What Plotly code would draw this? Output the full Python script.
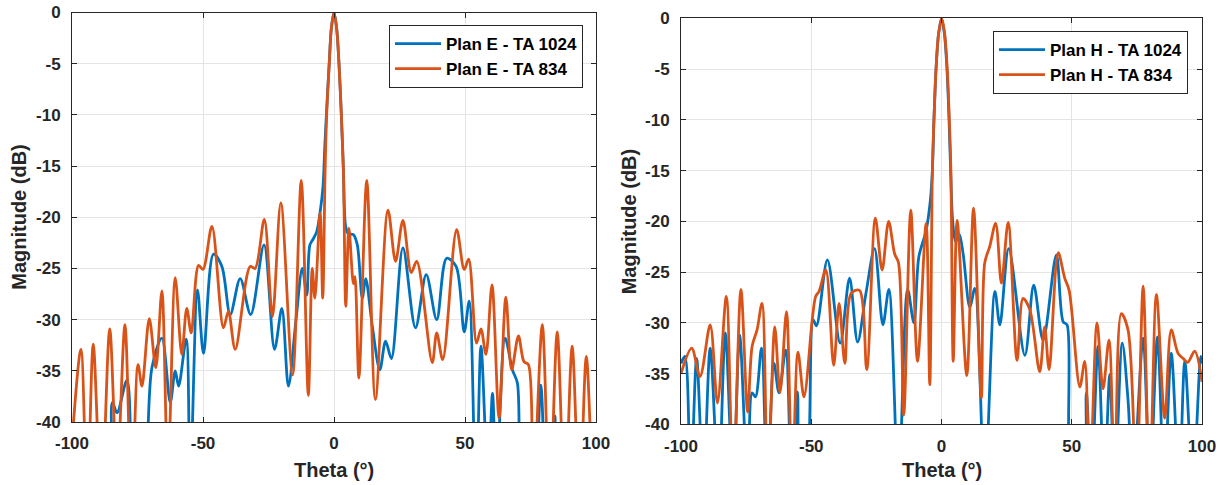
import plotly.graph_objects as go

# ---------------- data ----------------
# Left panel: Plan E
e1024_theta = [-100, -87.5, -84.6, -82.8, -79, -76, -72.5, -69.5, -65.7, -62.5, -60.6, -59.3, -56.4, -54.9,
               -52.1, -49.8, -46, -42.8, -39.6, -35.8, -31.8, -26.7, -22.7, -19.9, -17.4, -14.5, -12.1,
               -10.4, -9.2, -7.9, -6.6, -5.3, -4.2, -3.5, -2.8, -1.8, -1, 0, 1, 1.9, 2.8, 3.6, 4.4,
               5.4, 7.4, 8.9, 10.8, 12.1, 14.7, 17.5, 19.7, 21.9, 26.3, 31.1, 35.2, 39.2, 43, 46.6,
               49.7, 51.6, 54.2, 56.1, 58.8, 60.5, 62, 65.3, 68.1, 70, 72, 76.3, 78.9, 81.2, 84.3, 86,
               100]
e1024_mag = [-50, -50, -38.1, -39.1, -35.9, -48, -46, -34.7, -31.8, -38.1, -35, -36.5, -31.9, -46,
             -27.1, -33.3, -23.6, -24.8, -29.5, -26, -29.5, -22.7, -32.9, -28.9, -36.5, -30, -25,
             -27.6, -22.7, -22.1, -21.4, -19.5, -17, -13, -9.5, -4.8, -1.5, 0, -1.5, -5, -10, -15.5, -20.8,
             -21.6, -21.7, -22.7, -27.9, -26, -30.8, -34.9, -32.1, -33.8, -23, -30.8, -25.6, -30, -24, -24.8,
             -31.2, -28.2, -48, -32.6, -46, -37.2, -46, -31.8, -34.9, -36.2, -48, -46, -36.4, -48, -39.4, -48,
             -50]

e834_theta = [-100, -96.6, -94.2, -91.9, -88.8, -85.6, -82.8, -79.8, -77.2, -74.8, -73.3, -70.5, -68,
              -65.7, -63.4, -60.6, -58.1, -56.2, -54.5, -51.7, -50, -46.6, -42.2, -40.3, -37.7, -32,
              -30.1, -26.6, -23.5, -20.3, -15.8, -12.5, -9.8, -8.3, -7.3, -5.3, -4.3, -3.4, -2.8, -1.8,
              -1, 0, 1, 1.9, 2.8, 3.6, 4.5, 5.7, 7.4, 8, 9.5, 12.5, 15.8, 20.6, 23.5, 26.3, 29.5, 31.6,
              37.5, 39.2, 41.5, 46.8, 49.7, 51.4, 54.4, 56.1, 58, 60.3, 63, 65.6, 67.8, 70.4, 72.5, 74.2,
              75.9, 79.5, 82.3, 85.2, 88.1, 90.9, 93.7, 96.3, 99.1, 100]
e834_mag = [-42, -32.9, -48, -32.4, -48, -30.9, -45, -30.5, -48, -34.4, -36.5, -29.9, -34.7,
            -27.2, -45, -25.9, -33.4, -28.9, -31.3, -24.7, -25.1, -20.9, -30.8, -29.2, -32.9, -24.8,
            -25, -20.2, -29.7, -18.6, -35.4, -16.4, -37.4, -25, -27.9, -19.6, -27.9, -15.5, -10, -5,
            -1.5, 0, -1.5, -5, -10, -15.5, -28.7, -21.1, -26.5, -25.8, -35.7, -16.4, -37.8, -19.3, -24.3, -20.3, -25.4, -24.3,
            -34.2, -31.3, -33.9, -21.2, -25.1, -24.1, -32.3, -30.9, -33.4, -26.6, -39.6, -27.8, -34.9, -31.6, -34.1, -34.4,
            -48, -30.5, -48, -31.2, -48, -32.6, -48, -33.6, -48, -42]

# Right panel: Plan H
h1024_theta = [-100, -98.5, -96.3, -94, -91.4, -88.8, -85.6, -83, -80, -77.5, -74.4, -72.7, -71.4, -69.1,
               -66.9, -64.3, -62.4, -59.8, -57.5, -55.3, -53.8, -52.3, -49.3, -48, -43.8, -38.9, -35.3,
               -32.2, -29, -25.7, -22.5, -20.2, -16.5, -13, -10.6, -8.7, -5.9, -4.3, -3.5, -2.9, -2.1,
               -1.1, 0, 1.1, 2.1, 2.9, 3.5, 4.3, 5.4, 6.8, 8.3, 10.9, 12.8, 16.6, 20.5, 22.4, 25.8, 32,
               35.4, 39, 44.1, 46.7, 48.2, 50.5, 54, 55.6, 57.5, 60.1, 62.5, 64.6, 66.5, 69.4, 71.6,
               73.5, 77.4, 80, 82.9, 85.5, 88.2, 91.2, 93.4, 96.5, 99.5, 100]
h1024_mag = [-34, -33.3, -46, -33.5, -46, -32.5, -46, -31, -46, -31.2, -46, -36.9, -37.3, -32.5,
             -46, -34, -36.9, -32.7, -46, -36.8, -46, -46, -29.7, -30.3, -23.8, -32, -25.6,
             -31.9, -27.1, -22.7, -30.2, -26.7, -46, -26.7, -30, -23.5, -20.9, -18, -15, -10, -5,
             -1.5, 0, -1.5, -5, -10, -15, -20, -22, -21.3, -23.2, -28.5, -26.6, -46, -26.9, -30.2, -22.7, -33.2,
             -26.3, -31.7, -23.3, -29.9, -30.2, -46, -46, -36.9, -46, -32.3, -46, -35.1, -46, -32, -37.6,
             -46, -31.5, -46, -31.4, -46, -33, -46, -33.8, -46, -33.3, -34]

h834_theta = [-100, -95.9, -92.7, -88.8, -86, -82.6, -80, -77, -74.4, -72.7, -70.8, -68.9, -66.7, -64,
              -62, -59.5, -57.3, -55.1, -52.8, -49.5, -48.3, -47, -44.4, -41.4, -39.3, -37.1, -34.7,
              -31.5, -28.7, -25.4, -22.8, -20.3, -18, -16.5, -14.5, -11.8, -9.2, -5.9, -4.5, -3.5, -2.9,
              -2.1, -1.1, 0.1, 1.2, 2.2, 3, 3.6, 4.5, 6, 9.7, 12.3, 15.3, 16.6, 18.5, 20.8, 23, 25.6,
              29, 31.3, 33.9, 37.7, 39.6, 41.3, 44.8, 47.3, 49, 53.1, 55, 56.9, 59.7, 62, 64.3, 66.5,
              69, 71.6, 74.8, 77.4, 79.9, 82.5, 85.7, 88.2, 90.8, 92.7, 94.5, 97.2, 100]
h834_mag = [-35, -32.5, -35.3, -30.2, -37.9, -27.4, -46, -26.7, -38.8, -32.3, -30.7, -28.1, -46, -30.4,
            -36.9, -28.9, -46, -32.9, -37.3, -29.4, -27.4, -26.9, -24.8, -34.2, -28.1, -34, -27.1,
            -26.8, -34.6, -19.7, -24.8, -20, -23.2, -24.1, -39.1, -18.9, -33.8, -20.2, -36.1, -15, -10,
            -5, -1.5, 0, -1.5, -5, -10, -15, -33.8, -19.9, -35.2, -18.7, -37.4, -24.1, -22.5, -20.2, -26.1, -20.1,
            -33.7, -27.6, -28.7, -34.8, -30.4, -34.6, -23.1, -25.6, -26.8, -36.3, -33.8, -46, -30, -36.5, -31.7, -46,
            -29.1, -30.7, -46, -26.4, -46, -27.2, -39.4, -30.7, -33, -33.5, -33.9, -32.8, -35.8]

x_ticks = [-100, -50, 0, 50, 100]
y_ticks = [0, -5, -10, -15, -20, -25, -30, -35, -40]

BLUE = "#0072BD"
ORANGE = "#D95319"
AX = "#262626"
GRID = "#e4e4e4"
FONT = "Liberation Sans"

W, H = 1223, 485
# plot areas in pixels (left, right, top, bottom)
P1 = (72, 596, 12.5, 422)
P2 = (681, 1202, 18.3, 424.3)

def dom(p):
    l, r, t, b = p
    return [l / W, r / W], [(H - b) / H, (H - t) / H]

fig = go.Figure()
lw = 2.8
fig.add_trace(go.Scatter(x=e1024_theta, y=e1024_mag, mode="lines", name="Plan E - TA 1024",
                         line=dict(color=BLUE, width=lw, shape="spline", smoothing=0.9),
                         xaxis="x", yaxis="y", legend="legend"))
fig.add_trace(go.Scatter(x=e834_theta, y=e834_mag, mode="lines", name="Plan E - TA 834",
                         line=dict(color=ORANGE, width=lw, shape="spline", smoothing=0.9),
                         xaxis="x", yaxis="y", legend="legend"))
fig.add_trace(go.Scatter(x=h1024_theta, y=h1024_mag, mode="lines", name="Plan H - TA 1024",
                         line=dict(color=BLUE, width=lw, shape="spline", smoothing=0.9),
                         xaxis="x2", yaxis="y2", legend="legend2"))
fig.add_trace(go.Scatter(x=h834_theta, y=h834_mag, mode="lines", name="Plan H - TA 834",
                         line=dict(color=ORANGE, width=lw, shape="spline", smoothing=0.9),
                         xaxis="x2", yaxis="y2", legend="legend2"))

tickfont = dict(family=FONT, size=17, color=AX)

def xaxis(d, anchor):
    return dict(domain=d, anchor=anchor, range=[-100, 100], tickvals=x_ticks,
                ticktext=["<b>%d</b>" % v for v in x_ticks], tickfont=tickfont,
                showline=True, linecolor=AX, linewidth=1, mirror="ticks",
                ticks="inside", ticklen=5, tickcolor=AX,
                showgrid=True, gridcolor=GRID, gridwidth=1, zeroline=False,
                ticklabelstandoff=6, automargin=False, fixedrange=True)

def yaxis(d, anchor):
    return dict(domain=d, anchor=anchor, range=[-40, 0], tickvals=y_ticks,
                ticktext=["<b>%d</b>" % v for v in y_ticks], tickfont=tickfont,
                showline=True, linecolor=AX, linewidth=1, mirror="ticks",
                ticks="inside", ticklen=5, tickcolor=AX,
                showgrid=True, gridcolor=GRID, gridwidth=1, zeroline=False,
                ticklabelstandoff=7, automargin=False, fixedrange=True)

x1d, y1d = dom(P1)
x2d, y2d = dom(P2)

legfont = dict(family=FONT, size=17, color="black")

def leg(xr, yt):
    return dict(x=xr / W, y=(H - yt) / H, xanchor="right", yanchor="top",
                bgcolor="white", bordercolor=AX, borderwidth=1, font=legfont,
                itemwidth=46, tracegroupgap=0, traceorder="normal")

fig.update_layout(
    width=W, height=H,
    margin=dict(l=0, r=0, t=0, b=0),
    paper_bgcolor="white", plot_bgcolor="white",
    showlegend=True,
    xaxis=xaxis(x1d, "y"), yaxis=yaxis(y1d, "x"),
    xaxis2=xaxis(x2d, "y2"), yaxis2=yaxis(y2d, "x2"),
    legend=leg(583, 25),
    legend2=leg(1188, 31),
    font=dict(family=FONT, color=AX),
)

titlefont = dict(family=FONT, size=20, color=AX)
annots = [
    dict(text="<b>Theta (°)</b>", x=(P1[0] + P1[1]) / 2 / W, y=(H - 470) / H),
    dict(text="<b>Theta (°)</b>", x=(P2[0] + P2[1]) / 2 / W, y=(H - 470) / H),
    dict(text="<b>Magnitude (dB)</b>", x=19.5 / W, y=(H - (P1[2] + P1[3]) / 2) / H, textangle=-90),
    dict(text="<b>Magnitude (dB)</b>", x=629 / W, y=(H - (P2[2] + P2[3]) / 2) / H, textangle=-90),
]
for a in annots:
    fig.add_annotation(xref="paper", yref="paper", showarrow=False, font=titlefont,
                       xanchor="center", yanchor="middle", **a)

for t in fig.data:
    t.name = "<b>" + t.name + "</b>"

fig.write_html("out.html", config={"displayModeBar": False},
               post_script="document.body.style.margin='0px';")
